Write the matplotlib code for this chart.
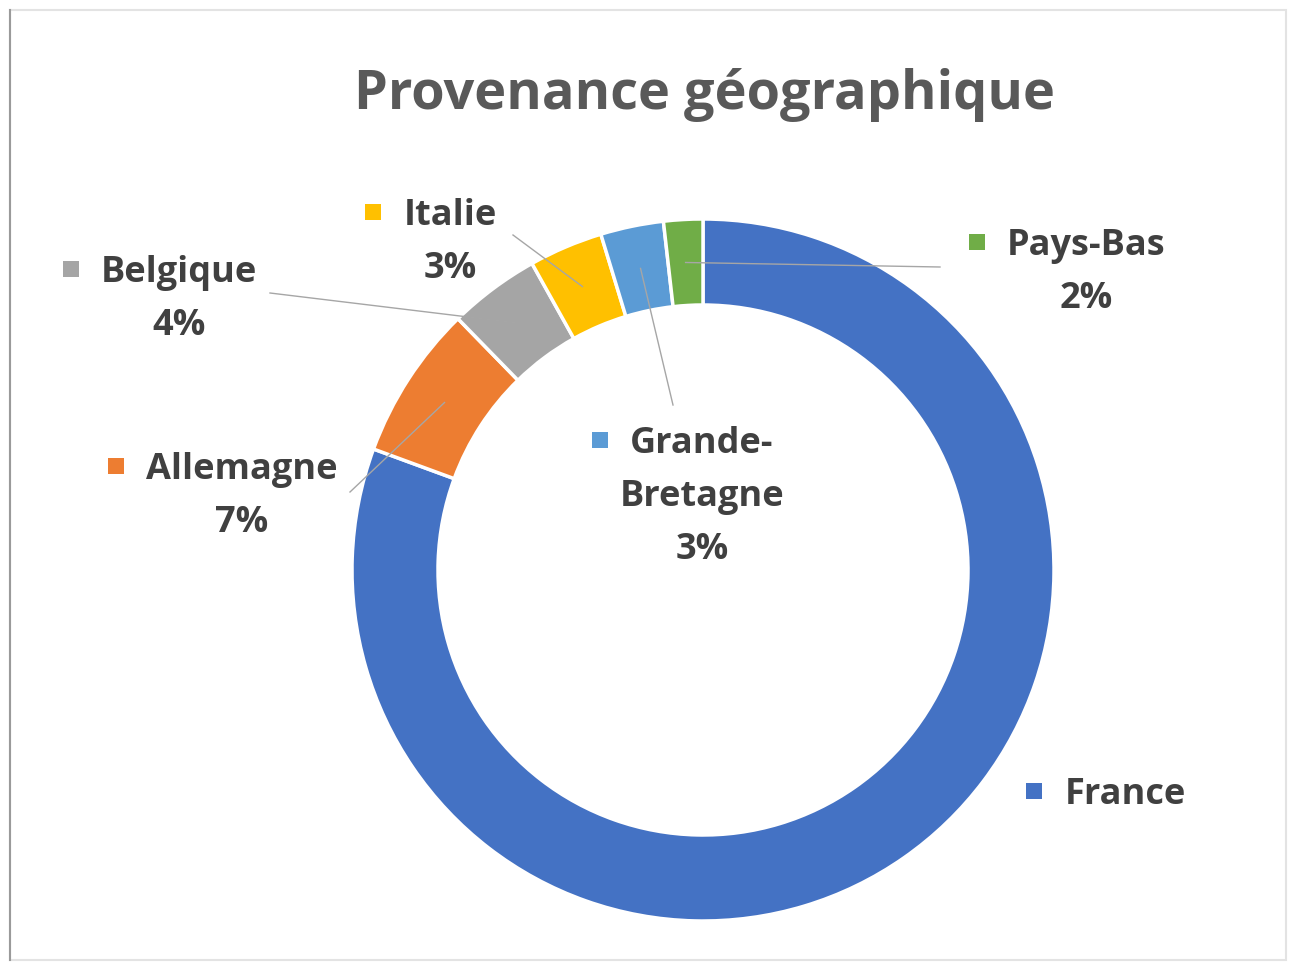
import matplotlib
matplotlib.use("Agg")
import matplotlib.pyplot as plt
from matplotlib.patches import Rectangle
import numpy as np

plt.rcParams['font.family'] = ['Open Sans', 'DejaVu Sans']

# ---- data ----
countries = ["France", "Allemagne", "Belgique", "Italie", "Grande-Bretagne", "Pays-Bas"]
shares = [80.6, 7.1, 4.2, 3.4, 2.9, 1.8]
colors = ["#4472C4", "#ED7D31", "#A5A5A5", "#FFC000", "#5B9BD5", "#70AD47"]
label_lines = {
    "France": ["France"],
    "Allemagne": ["Allemagne"],
    "Belgique": ["Belgique"],
    "Italie": ["Italie"],
    "Grande-Bretagne": ["Grande-", "Bretagne"],
    "Pays-Bas": ["Pays-Bas"],
}
show_pct = {"France": False, "Allemagne": True, "Belgique": True,
            "Italie": True, "Grande-Bretagne": True, "Pays-Bas": True}

# ---- layout (pixel coordinates, y measured from top) ----
W, H = 1290, 964
CX, CY, R = 703, 570, 351
RING = 0.245
label_pos = {  # center of first text line
    "France": (1125, 795),
    "Allemagne": (242, 470),
    "Belgique": (179, 273),
    "Italie": (450, 216),
    "Grande-Bretagne": (702, 444),
    "Pays-Bas": (1086, 246),
}
leader_start = {
    "Allemagne": (350, 492),
    "Belgique": (270, 293),
    "Italie": (513, 235),
    "Grande-Bretagne": (673, 405),
    "Pays-Bas": (940, 267),
}
LINE_H = 53
TXT = "#404040"
FS = 26

fig = plt.figure(figsize=(W / 100, H / 100), dpi=100)
ax = fig.add_axes([0, 0, 1, 1])

def Y(y):
    return H - y

wedges, _ = ax.pie(shares, colors=colors, startangle=90, counterclock=False,
                   center=(CX, Y(CY)), radius=R,
                   wedgeprops=dict(width=R * RING, edgecolor="white", linewidth=2.5))
ax.set_xlim(0, W)
ax.set_ylim(0, H)
ax.set_aspect("equal")
ax.axis("off")

# frame
fig.patches.append(Rectangle((10 / W, 4 / H), (W - 14) / W, (H - 14) / H,
                             transform=fig.transFigure, fill=False,
                             edgecolor="#e3e3e3", linewidth=1.5))
fig.lines.append(plt.Line2D([10 / W, 10 / W], [4 / H, (H - 10) / H],
                            transform=fig.transFigure, color="#9a9a9a", linewidth=1.5))

# title
ax.text(704, Y(95), "Provenance géographique", ha="center", va="center",
        fontsize=39, fontweight="bold", color="#595959")

renderer = fig.canvas.get_renderer()
total = sum(shares)
for w, name, val, col in zip(wedges, countries, shares, colors):
    x0, y0 = label_pos[name]
    lines = list(label_lines[name])
    if show_pct[name]:
        lines.append(f"{round(val / total * 100):.0f}%")
    first_txt = None
    for i, s in enumerate(lines):
        t = ax.text(x0, Y(y0 + i * LINE_H), s, ha="center", va="center",
                    fontsize=FS, fontweight="bold", color=TXT)
        if i == 0:
            first_txt = t
    # legend key left of first line
    bb = first_txt.get_window_extent(renderer=renderer)
    s = 16
    ax.add_patch(Rectangle((bb.x0 - 22 - s, Y(y0) - s / 2 + 4), s, s,
                           facecolor=col, edgecolor="none"))
    # leader line
    if name in leader_start:
        mid = np.deg2rad((w.theta1 + w.theta2) / 2)
        rm = R * (1 - RING / 2)
        ex, ey = CX + rm * np.cos(mid), Y(CY) + rm * np.sin(mid)
        sx, sy = leader_start[name]
        ax.plot([sx, ex], [Y(sy), ey], color="#a6a6a6", linewidth=1, zorder=3)

fig.savefig("out.png", dpi=100)
